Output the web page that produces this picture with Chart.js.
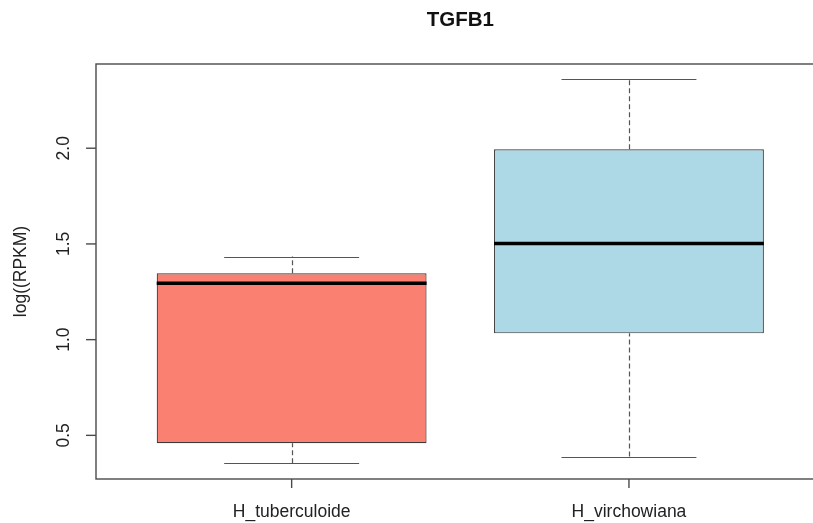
<!DOCTYPE html>
<html>
<head>
<meta charset="utf-8">
<script src="https://cdn.jsdelivr.net/npm/chart.js@4.4.1/dist/chart.umd.min.js"></script>
<style>
  html, body { margin: 0; padding: 0; background: #fff; overflow: hidden; }
  #wrap { width: 813px; height: 523px; overflow: hidden; }
  canvas { display: block; }
</style>
</head>
<body>
<div id="wrap"><canvas id="c" width="826" height="523"></canvas></div>
<script>
// TGFB1 expression by group, five-number summaries (log RPKM)
const groups = ['H_tuberculoide', 'H_virchowiana'];
const whiskerLow = [0.354, 0.389];
const lowerQuartile = [0.459, 1.033];
const median = [1.295, 1.502];
const upperQuartile = [1.347, 1.995];
const whiskerHigh = [1.434, 2.360];
const yTicks = [0.5, 1.0, 1.5, 2.0];
const boxColors = ['#FA8072', '#ADD8E6'];

const chartTitle = 'TGFB1';
const yTitle = 'log((RPKM)';
const FONT = '"Liberation Sans", Arial, Helvetica, sans-serif';

// whiskers, caps, medians and the axis frame, all placed through the chart scales
const boxplotDecor = {
  id: 'boxplotDecor',
  beforeDatasetsDraw(chart) {
    const { ctx, scales: { x, y } } = chart;
    ctx.save();
    // whiskers
    ctx.strokeStyle = '#555';
    ctx.lineWidth = 1.2;
    groups.forEach((g, i) => {
      const cx = Math.round(x.getPixelForValue(i + 1)) + 0.5;
      ctx.setLineDash([5, 3]);
      ctx.beginPath();
      ctx.moveTo(cx, y.getPixelForValue(whiskerLow[i]));
      ctx.lineTo(cx, y.getPixelForValue(lowerQuartile[i]));
      ctx.moveTo(cx, y.getPixelForValue(upperQuartile[i]));
      ctx.lineTo(cx, y.getPixelForValue(whiskerHigh[i]));
      ctx.stroke();
      ctx.setLineDash([]);
      ctx.beginPath();
      [whiskerLow[i], whiskerHigh[i]].forEach(v => {
        const py = Math.round(y.getPixelForValue(v)) + 0.5;
        ctx.moveTo(x.getPixelForValue(i + 1 - 0.2), py);
        ctx.lineTo(x.getPixelForValue(i + 1 + 0.2), py);
      });
      ctx.stroke();
    });
    ctx.restore();
  },
  afterDatasetsDraw(chart) {
    const { ctx, chartArea: a, scales: { x, y } } = chart;
    ctx.save();
    // medians
    ctx.strokeStyle = '#000';
    ctx.lineWidth = 3.5;
    groups.forEach((g, i) => {
      const py = y.getPixelForValue(median[i]);
      ctx.beginPath();
      ctx.moveTo(x.getPixelForValue(i + 1 - 0.4), py);
      ctx.lineTo(x.getPixelForValue(i + 1 + 0.4), py);
      ctx.stroke();
    });

    // frame
    ctx.strokeStyle = '#4a4a4a';
    ctx.lineWidth = 1.4;
    ctx.strokeRect(a.left, a.top, a.right - a.left, a.bottom - a.top);

    // y axis ticks and labels
    ctx.fillStyle = '#222';
    ctx.font = '17.5px ' + FONT;
    ctx.textAlign = 'center';
    ctx.textBaseline = 'middle';
    yTicks.forEach(v => {
      const py = y.getPixelForValue(v);
      ctx.beginPath();
      ctx.moveTo(a.left, py);
      ctx.lineTo(a.left - 10, py);
      ctx.stroke();
      ctx.save();
      ctx.translate(a.left - 32, py);
      ctx.rotate(-Math.PI / 2);
      ctx.fillText(v.toFixed(1), 0, 0);
      ctx.restore();
    });

    // x axis ticks and labels
    groups.forEach((g, i) => {
      const px = x.getPixelForValue(i + 1);
      ctx.beginPath();
      ctx.moveTo(px, a.bottom);
      ctx.lineTo(px, a.bottom + 9);
      ctx.stroke();
      ctx.fillText(g, px, a.bottom + 33);
    });

    // axis title
    ctx.save();
    ctx.translate(21, (a.top + a.bottom) / 2);
    ctx.rotate(-Math.PI / 2);
    ctx.fillText(yTitle, 0, 0);
    ctx.restore();

    // main title
    ctx.font = 'bold 20.5px ' + FONT;
    ctx.fillStyle = '#111';
    ctx.fillText(chartTitle, (a.left + a.right) / 2, 20);
    ctx.restore();
  }
};

new Chart(document.getElementById('c'), {
  type: 'bar',
  data: {
    datasets: [{
      data: groups.map((g, i) => ({ x: i + 1, y: [lowerQuartile[i], upperQuartile[i]] })),
      backgroundColor: boxColors,
      borderColor: '#3a3a3a',
      borderWidth: 1.2,
      borderSkipped: false,
      barPercentage: 0.8,
      categoryPercentage: 1.0
    }]
  },
  options: {
    responsive: false,
    animation: false,
    layout: { padding: { left: 96, top: 64, right: 1.4, bottom: 44 } },
    plugins: { legend: { display: false }, tooltip: { enabled: false }, title: { display: false } },
    scales: {
      x: {
        type: 'linear', min: 0.42, max: 2.58, offset: false, display: false,
        afterBuildTicks: scale => { scale.ticks = groups.map((g, i) => ({ value: i + 1 })); }
      },
      y: { type: 'linear', min: 0.272, max: 2.44, display: false }
    }
  },
  plugins: [boxplotDecor]
});
</script>
</body>
</html>
